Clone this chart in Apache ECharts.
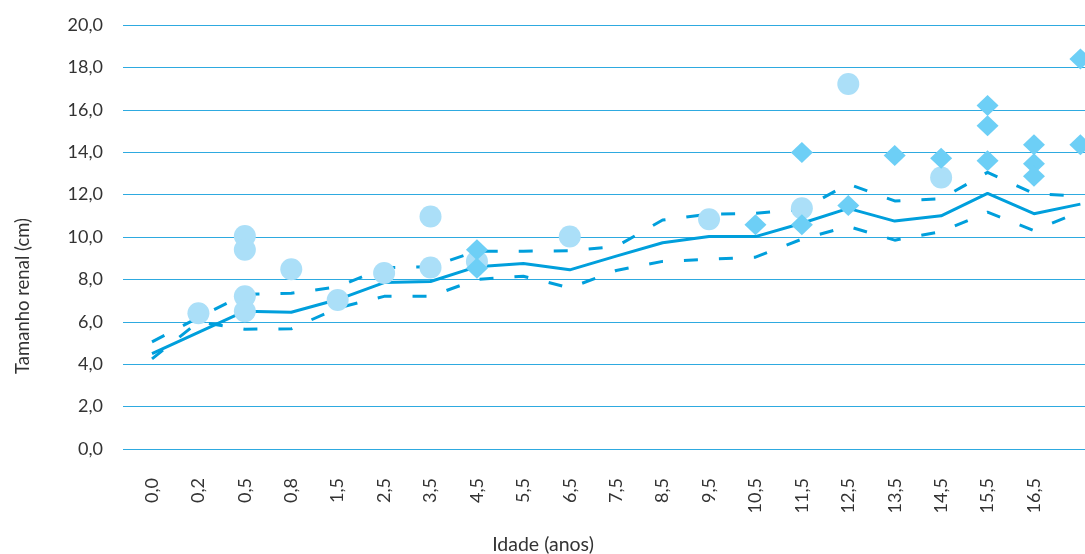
<!DOCTYPE html>
<html>
<head>
<meta charset="utf-8">
<script src="https://cdn.jsdelivr.net/npm/echarts@6/dist/echarts.min.js"></script>
<style>
html,body{margin:0;padding:0;background:#fff;}
#chart{width:1085px;height:554px;}
</style>
</head>
<body>
<div id="chart"></div>
<script>
// X categories (Idade, anos)
var categories = ['0,0','0,2','0,5','0,8','1,5','2,5','3,5','4,5','5,5','6,5','7,5','8,5','9,5','10,5','11,5','12,5','13,5','14,5','15,5','16,5','17,5'];
// Y tick labels
var yTickValues = [0, 2, 4, 6, 8, 10, 12, 14, 16, 18, 20];
var yTickLabels = ['0,0','2,0','4,0','6,0','8,0','10,0','12,0','14,0','16,0','18,0','20,0'];

// Reference curves
var meanLine  = [4.5, 5.5, 6.5, 6.45, 7.05, 7.85, 7.9, 8.6, 8.75, 8.45, 9.1, 9.73, 10.02, 10.02, 10.65, 11.35, 10.75, 11.0, 12.06, 11.1, 11.55];
var upperLine = [5.05, 6.2, 7.3, 7.35, 7.65, 8.55, 8.6, 9.33, 9.33, 9.35, 9.55, 10.8, 11.08, 11.12, 11.3, 12.5, 11.7, 11.8, 13.05, 12.05, 11.93];
var lowerLine = [4.25, 6.0, 5.65, 5.67, 6.65, 7.2, 7.2, 8.0, 8.15, 7.6, 8.42, 8.85, 8.95, 9.05, 9.9, 10.5, 9.85, 10.25, 11.17, 10.3, 11.2];

// Circle points
var circleCats = ['0,2','0,5','0,5','0,5','0,5','0,8','1,5','2,5','3,5','3,5','4,5','6,5','9,5','11,5','12,5','14,5'];
var circleVals = [6.4, 10.05, 9.4, 7.2, 6.5, 8.48, 7.03, 8.3, 10.97, 8.56, 8.85, 10.02, 10.84, 11.36, 17.22, 12.81];

// Diamond points
var diamondCats = ['4,5','4,5','10,5','11,5','11,5','12,5','13,5','14,5','15,5','15,5','15,5','16,5','16,5','16,5','17,5','17,5'];
var diamondVals = [9.4, 8.53, 10.58, 13.99, 10.58, 11.49, 13.85, 13.72, 16.2, 15.25, 13.6, 14.35, 13.46, 12.86, 18.4, 14.35];

function pairs(cats, vals) {
  return cats.map(function (c, i) { return [c, vals[i]]; });
}

var FONT = 'Lato';
var TXT = '#333333';
var LINE = '#009fdc';

var chart = echarts.init(document.getElementById('chart'), null, {renderer: 'canvas'});
chart.setOption({
  animation: false,
  backgroundColor: '#ffffff',
  grid: [
    {left: 123, right: 0, top: 25, bottom: 105, outerBoundsMode: 'none', containLabel: false},
    {left: 128.8, right: -18.6, top: 25, bottom: 105, outerBoundsMode: 'none', containLabel: false}
  ],
  xAxis: [
    {type: 'value', gridIndex: 0, show: false, min: 0, max: 1},
    {
      type: 'category', gridIndex: 1, data: categories, boundaryGap: true,
      axisLine: {show: false}, axisTick: {show: false}, splitLine: {show: false},
      axisLabel: {
        rotate: 90, margin: 29,
        interval: function (index) { return index < categories.length - 1; },
        fontFamily: FONT, fontSize: 18, color: TXT
      }
    }
  ],
  yAxis: [
    {
      type: 'value', gridIndex: 0, min: 0, max: 20, interval: 2,
      axisLine: {show: false}, axisTick: {show: false},
      splitLine: {show: true, lineStyle: {color: '#2eaae0', width: 1}},
      axisLabel: {
        margin: 20, fontFamily: FONT, fontSize: 18, color: TXT,
        formatter: function (v) {
          var i = yTickValues.indexOf(v);
          return i >= 0 ? yTickLabels[i] : '';
        }
      }
    },
    {type: 'value', gridIndex: 1, min: 0, max: 20, interval: 2, show: false, splitLine: {show: false}}
  ],
  graphic: [
    {
      type: 'text', x: 23, y: 296, rotation: Math.PI / 2,
      style: {text: 'Tamanho renal (cm)', font: '18.5px Lato', fill: TXT, align: 'center', verticalAlign: 'middle'}
    },
    {
      type: 'text', x: 543, y: 545,
      style: {text: 'Idade (anos)', font: '19.5px Lato', fill: TXT, align: 'center', verticalAlign: 'middle'}
    }
  ],
  series: [
    {
      type: 'line', xAxisIndex: 1, yAxisIndex: 1, data: upperLine, symbol: 'none',
      lineStyle: {color: LINE, width: 3, type: [14, 21]}, z: 2
    },
    {
      type: 'line', xAxisIndex: 1, yAxisIndex: 1, data: lowerLine, symbol: 'none',
      lineStyle: {color: LINE, width: 3, type: [14, 21]}, z: 2
    },
    {
      type: 'line', xAxisIndex: 1, yAxisIndex: 1, data: meanLine, symbol: 'none',
      lineStyle: {color: LINE, width: 3}, z: 2
    },
    {
      type: 'scatter', xAxisIndex: 1, yAxisIndex: 1, data: pairs(circleCats, circleVals),
      symbol: 'circle', symbolSize: 22, itemStyle: {color: '#abdff8', opacity: 1}, z: 3
    },
    {
      type: 'scatter', xAxisIndex: 1, yAxisIndex: 1, data: pairs(diamondCats, diamondVals),
      symbol: 'diamond', symbolSize: [22, 21], itemStyle: {color: '#6dcff6', opacity: 1}, z: 4
    }
  ]
});
</script>
</body>
</html>
